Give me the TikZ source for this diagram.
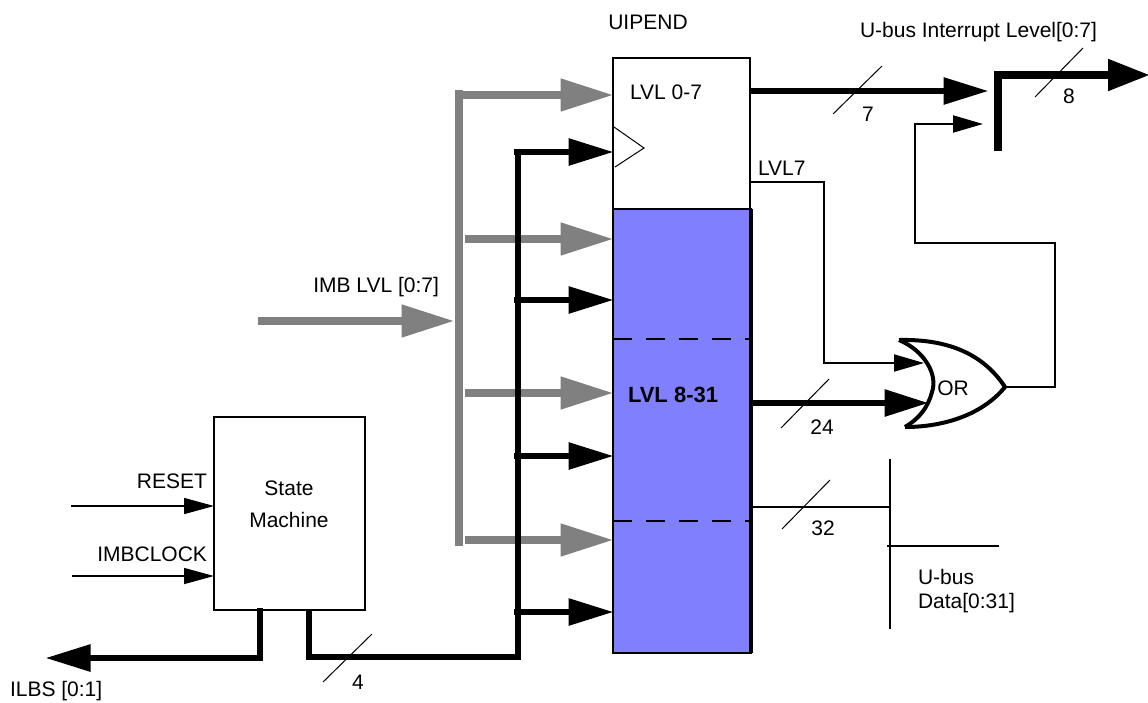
\documentclass[tikz,border=0pt]{standalone}
\usepackage{fontspec}
\setmainfont{Liberation Sans}
\usetikzlibrary{arrows.meta}
\definecolor{busgray}{HTML}{808080}
\definecolor{regblue}{HTML}{8080FF}
\tikzset{
  lbl/.style={inner sep=0pt,outer sep=0pt,font=\fontsize{21}{24}\selectfont},
  regbox/.style={draw=black,line width=2pt,inner sep=0pt,outer sep=0pt,anchor=north west},
  graybus/.style={draw=busgray,line width=8pt,line join=miter},
  grayarrow/.style={graybus,-{Triangle[length=53pt,width=31pt,color=busgray]}},
  blackbus/.style={draw=black,line width=6pt,line join=miter},
  blackarrow/.style={blackbus,-{Triangle[length=45pt,width=26pt]}},
  thinarrow/.style={draw=black,line width=2pt,line join=miter,-{Triangle[length=30pt,width=17pt]}},
  slashmark/.style={draw=black,line width=1pt},
  dashline/.style={draw=black,line width=2pt,dash pattern=on 19pt off 14pt},
  plainline/.style={draw=black,line width=2.5pt},
  orline/.style={draw=black,line width=4pt,line join=miter}
}
\begin{document}
\begin{tikzpicture}[x=1pt,y=-1pt]
\useasboundingbox (0,0) rectangle (1148,702);
% boxes
\node[regbox,fill=white,minimum width=137pt,minimum height=151pt] (upper) at (613,58) {};
\node[regbox,fill=regblue,minimum width=138pt,minimum height=444pt,line width=2.5pt] (lower) at (613,209) {};
\draw[draw=black,line width=4pt] (lower.north east) -- (lower.south east);
\node[regbox,fill=white,minimum width=151pt,minimum height=193pt] (sm) at (214,417) {};
\coordinate (d1a) at (613,339); \coordinate (d1b) at (751,339);
\coordinate (d2a) at (613,521); \coordinate (d2b) at (751,521);
\draw[dashline] (d1a) -- (d1b);
\draw[dashline] (d2a) -- (d2b);
% clock triangle
\coordinate (ck1) at (614,127); \coordinate (ck2) at (644,148); \coordinate (ck3) at (615,167);
\draw[slashmark,line join=miter] (ck1) -- (ck2) -- (ck3);
% gray bus
\coordinate (gt) at (459,90); \coordinate (gb) at (459,546);
\coordinate (g0) at (459,95); \coordinate (g0e) at (613.5,95);
\coordinate (g1) at (465,239); \coordinate (g1e) at (613.5,239);
\coordinate (g2) at (465,393); \coordinate (g2e) at (613.5,393);
\coordinate (g3) at (465,540); \coordinate (g3e) at (613.5,540);
\coordinate (imbs) at (258,321); \coordinate (imbe) at (454.5,321);
\draw[graybus] (gt) -- (gb);
\draw[grayarrow] (g0) -- (g0e);
\draw[grayarrow] (g1) -- (g1e);
\draw[grayarrow] (g2) -- (g2e);
\draw[grayarrow] (g3) -- (g3e);
\draw[grayarrow] (imbs) -- (imbe);
% black bus
\coordinate (bt) at (518,149); \coordinate (bb) at (518,660);
\coordinate (b0) at (514,152); \coordinate (b0e) at (613.5,152);
\coordinate (b1) at (514,300); \coordinate (b1e) at (613.5,300);
\coordinate (b2) at (514,456); \coordinate (b2e) at (613.5,456);
\coordinate (b3) at (514,612); \coordinate (b3e) at (613.5,612);
\draw[blackbus] (bt) -- (bb);
\draw[blackarrow] (b0) -- (b0e);
\draw[blackarrow] (b1) -- (b1e);
\draw[blackarrow] (b2) -- (b2e);
\draw[blackarrow] (b3) -- (b3e);
% state machine
\coordinate (rs) at (71,506); \coordinate (re) at (214,506);
\coordinate (cs) at (72,576); \coordinate (ce) at (214,576);
\draw[draw=black,line width=1.5pt,-{Triangle[length=30pt,width=16pt]}] (rs) -- (re);
\draw[draw=black,line width=1.5pt,-{Triangle[length=30pt,width=16pt]}] (cs) -- (ce);
\coordinate (il0) at (260,608); \coordinate (il1) at (260,658); \coordinate (il2) at (45.5,658);
\draw[blackarrow] (il0) -- (il1) -- (il2);
\coordinate (f0) at (309,610); \coordinate (f1) at (309,657); \coordinate (f2) at (518,657);
\draw[blackbus] (f0) -- (f1) -- (f2);
% LVL 0-7 output
\coordinate (o7s) at (750,91); \coordinate (o7e) at (988.5,91);
\draw[blackarrow] (o7s) -- (o7e);
\coordinate (u0) at (998,151); \coordinate (u1) at (998,75); \coordinate (u2) at (1150,75);
\draw[draw=black,line width=8pt,line join=miter,-{Triangle[length=42pt,width=30pt]}] (u0) -- (u1) -- (u2);
% OR gate
\coordinate (ortop) at (899,340); \coordinate (orbot) at (905,427); \coordinate (orout) at (1005,387);
\draw[orline] (ortop) .. controls (925,351) and (938,375) .. (932,392) .. controls (928,407) and (920,418) .. (orbot);
\draw[orline] (ortop) .. controls (945,339) and (982,352) .. (orout);
\draw[orline] (orbot) .. controls (945,427) and (983,414) .. (orout);
\node[lbl] (orlabel) at (953,388) {OR};
% LVL7
\coordinate (l0) at (750,182); \coordinate (l1) at (824,182); \coordinate (l2) at (824,363); \coordinate (l3) at (924,363);
\draw[thinarrow] (l0) -- (l1) -- (l2) -- (l3);
% LVL 8-31 out
\coordinate (o24s) at (752,403); \coordinate (o24e) at (928.5,403);
\draw[blackarrow,-{Triangle[length=44pt,width=26pt]}] (o24s) -- (o24e);
% feedback
\coordinate (fb1) at (1055,387); \coordinate (fb2) at (1055,243); \coordinate (fb3) at (915,243); \coordinate (fb4) at (915,124); \coordinate (fb5) at (983,124);
\draw[thinarrow] (orout) -- (fb1) -- (fb2) -- (fb3) -- (fb4) -- (fb5);
% U-bus data
\coordinate (d0) at (752,507); \coordinate (d1) at (890,507);
\coordinate (dv0) at (890,459); \coordinate (dv1) at (890,629);
\coordinate (dh0) at (887,546); \coordinate (dh1) at (999,546);
\draw[plainline] (d0) -- (d1);
\draw[plainline] (dv0) -- (dv1);
\draw[plainline] (dh0) -- (dh1);
% bus width marks
\coordinate (s7a) at (833,114); \coordinate (s7b) at (882,66);
\coordinate (s8a) at (1035,97); \coordinate (s8b) at (1083,48);
\coordinate (s24a) at (781,428); \coordinate (s24b) at (829,379);
\coordinate (s32a) at (782,529); \coordinate (s32b) at (830,480);
\coordinate (s4a) at (323,682); \coordinate (s4b) at (372,634);
\draw[slashmark] (s7a) -- (s7b);
\draw[slashmark] (s8a) -- (s8b);
\draw[slashmark] (s24a) -- (s24b);
\draw[slashmark] (s32a) -- (s32b);
\draw[slashmark] (s4a) -- (s4b);
% labels
\node[lbl] (tuipend) at (648,22) {UIPEND};
\node[lbl,anchor=west] (tlvl07) at (630,92) {LVL 0-7};
\node[lbl,anchor=west,font=\fontsize{22}{24}\selectfont\bfseries] (tlvl831) at (628,395) {LVL 8-31};
\node[lbl,anchor=west] (tlvl7) at (758,168) {LVL7};
\node[lbl] (tubus) at (978.5,32) {U-bus Interrupt Level[0:7]};
\node[lbl] (t7) at (868,114) {7};
\node[lbl] (t8) at (1069,96) {8};
\node[lbl] (t24) at (822,427) {24};
\node[lbl] (t32) at (823,528) {32};
\node[lbl] (t4) at (358,682) {4};
\node[lbl,anchor=west] (tdata1) at (918,577) {U-bus};
\node[lbl,anchor=west] (tdata2) at (918,603) {Data[0:31]};
\node[lbl,anchor=east] (timb) at (439,287) {IMB LVL [0:7]};
\node[lbl,anchor=east] (trst) at (207,481) {RESET};
\node[lbl,anchor=east] (tclk) at (207,554) {IMBCLOCK};
\node[lbl] (tstate) at (289,488) {State};
\node[lbl] (tmach) at (289,520) {Machine};
\node[lbl,anchor=west] (tilbs) at (10,691) {ILBS [0:1]};
\end{tikzpicture}
\end{document}
